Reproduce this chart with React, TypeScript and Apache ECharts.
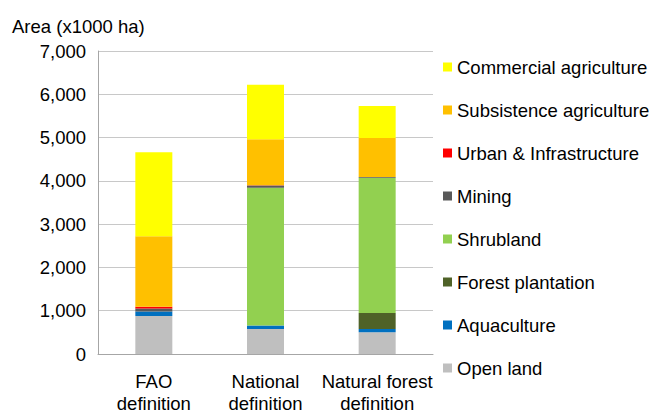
import React, { useEffect, useRef } from "react";
import * as echarts from "echarts";

const categories = ["FAO\ndefinition", "National\ndefinition", "Natural forest\ndefinition"];
const seriesNames = [
  "Open land",
  "Aquaculture",
  "Forest plantation",
  "Shrubland",
  "Mining",
  "Urban & Infrastructure",
  "Subsistence agriculture",
  "Commercial agriculture",
];
const seriesColors = ["#BFBFBF", "#0070C0", "#4F6228", "#92D050", "#595959", "#FF0000", "#FFC000", "#FFFF00"];
const openLand = [880, 580, 500];
const aquaculture = [100, 80, 75];
const forestPlantation = [0, 0, 370];
const shrubland = [0, 3180, 3125];
const mining = [70, 50, 20];
const urban = [40, 10, 0];
const subsistence = [1630, 1060, 900];
const commercial = [1940, 1260, 740];
const seriesValues = [openLand, aquaculture, forestPlantation, shrubland, mining, urban, subsistence, commercial];
const yTicks = { min: 0, max: 7000, interval: 1000 };

const FONT = "'Liberation Sans', Arial, sans-serif";

export default function App() {
  const ref = useRef<HTMLDivElement>(null);
  useEffect(() => {
    if (!ref.current) return;
    const chart = echarts.init(ref.current, undefined, { renderer: "svg" });
    chart.setOption({
      animation: false,
      backgroundColor: "#ffffff",
      textStyle: { fontFamily: FONT },
      title: {
        text: "Area (x1000 ha)",
        left: 7,
        top: 12,
        textStyle: { fontFamily: FONT, fontSize: 18.5, fontWeight: "normal", color: "#000" },
      },
      legend: {
        orient: "vertical",
        left: 438,
        top: 52,
        itemWidth: 9,
        itemHeight: 9,
        itemGap: 23,
        icon: "rect",
        data: seriesNames.slice().reverse(),
        textStyle: { fontFamily: FONT, fontSize: 18.5, color: "#000", lineHeight: 20 },
      },
      grid: { left: 98, right: 221, top: 51, bottom: 59, containLabel: false },
      xAxis: {
        type: "category",
        data: categories,
        axisLine: { lineStyle: { color: "#A6A6A6", width: 1 } },
        axisTick: { show: false },
        axisLabel: {
          fontFamily: FONT,
          fontSize: 18.5,
          color: "#000",
          lineHeight: 22,
          margin: 16,
          interval: 0,
        },
      },
      yAxis: {
        type: "value",
        min: yTicks.min,
        max: yTicks.max,
        interval: yTicks.interval,
        axisLine: { show: true, lineStyle: { color: "#A6A6A6", width: 1 } },
        axisTick: { show: false },
        splitLine: { lineStyle: { color: "#C8C8C8", width: 1 } },
        axisLabel: {
          fontFamily: FONT,
          fontSize: 18.5,
          color: "#000",
          margin: 12,
          formatter: (v: number) => v.toLocaleString("en-US"),
        },
      },
      series: seriesNames.map((name, i) => ({
        name,
        type: "bar",
        stack: "total",
        barWidth: 37,
        data: seriesValues[i],
        itemStyle: { color: seriesColors[i] },
        emphasis: { disabled: true },
      })),
    });
    return () => chart.dispose();
  }, []);
  return <div ref={ref} style={{ width: 654, height: 414, position: "absolute", left: 0, top: 0 }} />;
}
